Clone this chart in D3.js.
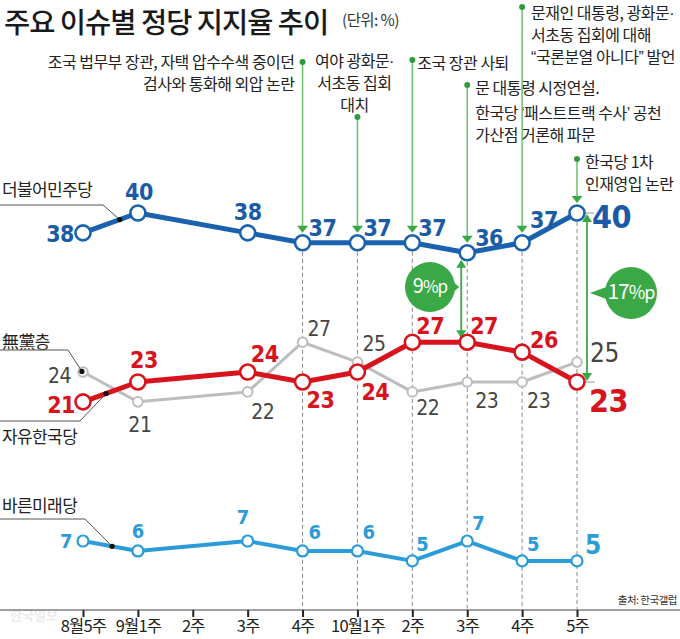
<!DOCTYPE html>
<html><head><meta charset="utf-8">
<script src="https://cdn.jsdelivr.net/npm/d3@7"></script>
<style>
html,body{margin:0;padding:0;background:#fff;}
svg{display:block;}
text{font-family:"Noto Sans CJK KR","Noto Sans",sans-serif;}
.num{font-family:"Liberation Sans Narrow","DejaVu Sans Condensed",Roboto,sans-serif;}
.lat{font-family:"Liberation Sans",Roboto,sans-serif;}
</style></head>
<body>
<svg id="c" width="680" height="639"></svg>
<script>
// ---- data ----
const xLabels = ['8월5주','9월1주','2주','3주','4주','10월1주','2주','3주','4주','5주'];
const demValues = [38,40,null,38,37,37,37,36,37,40];   // 더불어민주당
const lkpValues = [21,23,null,24,23,24,27,27,26,23];   // 자유한국당
const nonValues = [24,21,null,22,27,25,22,23,23,25];   // 無黨층
const bmpValues = [7,6,null,7,6,6,5,7,5,5];            // 바른미래당
const seriesNames = ['더불어민주당','자유한국당','無黨층','바른미래당'];
const eventIndex = [4,5,6,7,8,9];
const eventLines = [
  ['조국 법무부 장관, 자택 압수수색 중이던','검사와 통화해 외압 논란'],
  ['여야 광화문·','서초동 집회','대치'],
  ['조국 장관 사퇴'],
  ['문 대통령 시정연설.','한국당 ‘패스트트랙 수사’ 공천','가산점 거론해 파문'],
  ['문재인 대통령, 광화문·','서초동 집회에 대해','“국론분열 아니다” 발언'],
  ['한국당 1차','인재영입 논란']
];
const gapLabels = ['9','17'];
const title = '주요 이슈별 정당 지지율 추이';
const unit = '(단위: %)';
const source = '출처: 한국갤럽';

// ---- layout ----
const svg = d3.select('#c');
const W = 680;
const x = d3.scaleLinear().domain([0, 9]).range([83, 577]);
const y = d3.scaleLinear().domain([0, 40]).range([610.6, 213]);
const GREEN = '#3aa846', GLINE = '#6cbf6f';

// text with narrow (latin) punctuation
function richText(sel, str){
  str.split(/([·“”‘’])/).filter(s=>s.length).forEach(part=>{
    const tp = sel.append('tspan').text(part);
    if (/^[·“”‘’]$/.test(part)) tp.attr('class','lat');
  });
  return sel;
}

// title
svg.append('text').attr('x',4).attr('y',33).attr('font-size',28.5).attr('font-weight',500)
  .attr('letter-spacing',-1).attr('fill','#1a1a1a').text(title);
svg.append('text').attr('x',342).attr('y',26).attr('font-size',15.5).attr('letter-spacing',-0.6)
  .attr('fill','#333').text(unit);

// watermark
svg.append('text').attr('x',10).attr('y',620).attr('font-size',13).attr('font-weight',700)
  .attr('fill','#ebebeb').text('한국일보');

// axis
const axisY = 610;
svg.append('line').attr('x1',0).attr('x2',W).attr('y1',axisY).attr('y2',axisY)
  .attr('stroke','#444').attr('stroke-width',1.2);
const ax = svg.append('g').attr('transform',`translate(0,${axisY})`)
  .call(d3.axisBottom(x).tickValues(d3.range(10)).tickFormat(i=>xLabels[i]).tickSize(7).tickPadding(3));
ax.select('.domain').remove();
ax.selectAll('.tick line').attr('stroke','#222').attr('stroke-width',2);
ax.selectAll('.tick text').attr('font-family','"Noto Sans CJK KR",sans-serif')
  .attr('font-size',16.5).attr('letter-spacing',-0.8).attr('fill','#222');

svg.append('text').attr('x',677).attr('y',604).attr('text-anchor','end').attr('font-size',10.5)
  .attr('letter-spacing',-0.5).attr('fill','#333').text(source);

// dashed verticals
eventIndex.forEach(i=>{
  svg.append('line').attr('x1',x(i)).attr('x2',x(i)).attr('y1',y(demValues[i])+9).attr('y2',axisY)
    .attr('stroke','#8a8a8a').attr('stroke-width',1).attr('stroke-dasharray','4,3');
});

// event annotations
const evLayout = [
  {dotY:62, anchor:'end', dx:-8, ys:[62,84]},
  {dotY:117, anchor:'middle', dx:-3, ys:[61,83,105]},
  {dotY:60, anchor:'start', dx:5, ys:[63]},
  {dotY:85, anchor:'start', dx:8, ys:[88,113,135]},
  {dotY:7, anchor:'start', dx:9, ys:[13,35,57]},
  {dotY:159, anchor:'start', dx:8, ys:[162,184]}
];
eventIndex.forEach((i,k)=>{
  const L = evLayout[k], cx = x(i), tip = y(demValues[i]) - 10;
  svg.append('line').attr('x1',cx).attr('x2',cx).attr('y1',L.dotY).attr('y2',tip-6)
    .attr('stroke',GLINE).attr('stroke-width',1.5);
  svg.append('path').attr('d',`M${cx-5.5},${tip-7}L${cx+5.5},${tip-7}L${cx},${tip}Z`).attr('fill',GREEN);
  svg.append('circle').attr('cx',cx).attr('cy',L.dotY).attr('r',3).attr('fill','#2e9c3e');
  const te = svg.append('text').attr('text-anchor',L.anchor).attr('font-size',16)
    .attr('letter-spacing',-0.5).attr('fill','#222');
  eventLines[k].forEach((t,j)=>{
    const ln = te.append('tspan').attr('x',cx+L.dx).attr('y',L.ys[j]+5.6);
    richText(ln, t);
  });
});

// series styles
const series = [
  {values:nonValues, line:'#bdbdbd', lw:3, r:4.8, sw:2, text:'#454545', fs:21, fw:400, bw:400},
  {values:bmpValues, line:'#2b9cd8', lw:4, r:5.5, sw:2.2, text:'#2b9cd8', fs:20, fw:700, bw:700},
  {values:lkpValues, line:'#d7141e', lw:5, r:7.5, sw:2.6, text:'#d7141e', fs:23, fw:700, bw:700},
  {values:demValues, line:'#1b62ae', lw:5, r:7.5, sw:2.6, text:'#1a5aa6', fs:23, fw:700, bw:700}
];
const lineGen = d3.line().x(d=>x(d.i)).y(d=>y(d.v));
series.forEach(s=>{
  const pts = s.values.map((v,i)=>({i,v})).filter(d=>d.v!=null);
  s.pts = pts;
  svg.append('path').attr('d',lineGen(pts)).attr('fill','none').attr('stroke',s.line)
    .attr('stroke-width',s.lw).attr('stroke-linejoin','round');
});

// gap arrows & bubbles
function dblArrow(cx, y1, y2){
  svg.append('line').attr('x1',cx).attr('x2',cx).attr('y1',y1+6).attr('y2',y2-6)
    .attr('stroke',GREEN).attr('stroke-width',1.8);
  svg.append('path').attr('d',`M${cx},${y1}L${cx-5},${y1+8}L${cx+5},${y1+8}Z`).attr('fill',GREEN);
  svg.append('path').attr('d',`M${cx},${y2}L${cx-5},${y2-8}L${cx+5},${y2-8}Z`).attr('fill',GREEN);
}
function bubble(cx, cy, r, tipX, big, label){
  const side = tipX > cx ? 1 : -1;
  svg.append('path').attr('d',`M${cx+side*(r-4)},${cy-7}L${tipX},${cy}L${cx+side*(r-4)},${cy+7}Z`).attr('fill',GREEN);
  svg.append('circle').attr('cx',cx).attr('cy',cy).attr('r',r).attr('fill',GREEN);
  const t = svg.append('text').attr('x',cx).attr('y',cy).attr('dy','0.36em')
    .attr('text-anchor','middle').attr('fill','#fff').attr('letter-spacing',-1)
    .attr('font-family','Roboto,sans-serif');
  t.append('tspan').attr('font-size',big).text(label);
  t.append('tspan').attr('font-size',big-3).text('%p');
}
dblArrow(x(7)-6, y(demValues[7])+7, y(lkpValues[7])-4);
bubble(430, 287, 25, x(7)-8, 20, gapLabels[0]);
dblArrow(x(9)+10, y(demValues[9])+1, y(lkpValues[9])-1);
svg.append('line').attr('x1',x(9)+8).attr('x2',x(9)+17).attr('y1',y(demValues[9])).attr('y2',y(demValues[9])).attr('stroke','#999');
svg.append('line').attr('x1',x(9)+8).attr('x2',x(9)+18).attr('y1',y(lkpValues[9])).attr('y2',y(lkpValues[9])).attr('stroke','#999');
bubble(631, 293, 26, x(9)+13, 21, gapLabels[1]);

// markers
series.forEach(s=>{
  svg.selectAll(null).data(s.pts).enter().append('circle')
    .attr('cx',d=>x(d.i)).attr('cy',d=>y(d.v)).attr('r',s.r)
    .attr('fill','#fff').attr('stroke',s.line).attr('stroke-width',s.sw);
});

// value labels: [dx, dy(center), anchor, size]
const labelLayout = [
  // 無黨층
  [[-12,3,'end'],[2,23,'middle'],null,[15,20,'middle'],[5,-14,'start'],[5,-19,'start'],[4,16,'start'],[8,18,'start'],[5,18,'start'],[13,-9,'start',26]],
  // 바른미래당
  [[-11,0,'end'],[0,-20,'middle'],null,[-5,-24,'middle'],[6,-19,'start'],[5,-19,'start'],[4,-17,'start'],[5,-18,'start'],[5,-17,'start'],[8,-16,'start',26]],
  // 자유한국당
  [[-8,3,'end'],[6,-22,'middle'],null,[17,-18,'middle'],[4,18,'start'],[4,20,'start'],[4,-17,'start'],[3,-17,'start'],[8,-12,'start'],[12,18,'start',32]],
  // 더불어민주당
  [[-9,1,'end'],[1,-21,'middle'],null,[0,-21,'middle'],[6,-15,'start'],[6,-15,'start'],[6,-15,'start'],[8,-15,'start'],[8,-23,'start'],[15,3,'start',32]]
];
series.forEach((s,k)=>{
  s.pts.forEach(d=>{
    const L = labelLayout[k][d.i];
    svg.append('text').attr('class','num').attr('x',x(d.i)+L[0]).attr('y',y(d.v)+L[1]).attr('dy','0.36em')
      .attr('text-anchor',L[2]).attr('font-size',L[3]||s.fs).attr('font-weight',L[3]?s.bw:s.fw)
      .attr('letter-spacing',-0.5).attr('fill',s.text).text(d.v);
  });
});

// series name labels with leader lines
function leader(name, ty, ly, bend, vals, i0, frac){
  const px = x(i0) + (x(i0+1)-x(i0))*frac;
  const v0 = vals[i0], v1 = vals[i0+1]!=null?vals[i0+1]:v0;
  const py = y(v0) + (y(v1)-y(v0))*frac;
  svg.append('text').attr('x',2).attr('y',ty).attr('dy','0.35em').attr('font-size',17)
    .attr('letter-spacing',-0.6).attr('fill','#222').text(name);
  svg.append('path').attr('d',`M0,${ly}L${bend},${ly}L${px},${py}`).attr('fill','none')
    .attr('stroke','#555').attr('stroke-width',1);
  svg.append('circle').attr('cx',px).attr('cy',py).attr('r',2.6).attr('fill','#111');
}
leader(seriesNames[0], 190, 205, 103, demValues, 0, 0.67);
leader(seriesNames[2], 342, 350, 68, nonValues, 0, -0.02);
leader(seriesNames[1], 437, 421, 80, lkpValues, 0, 0.42);
leader(seriesNames[3], 506, 519, 85, bmpValues, 0, 0.53);
</script>
</body></html>
